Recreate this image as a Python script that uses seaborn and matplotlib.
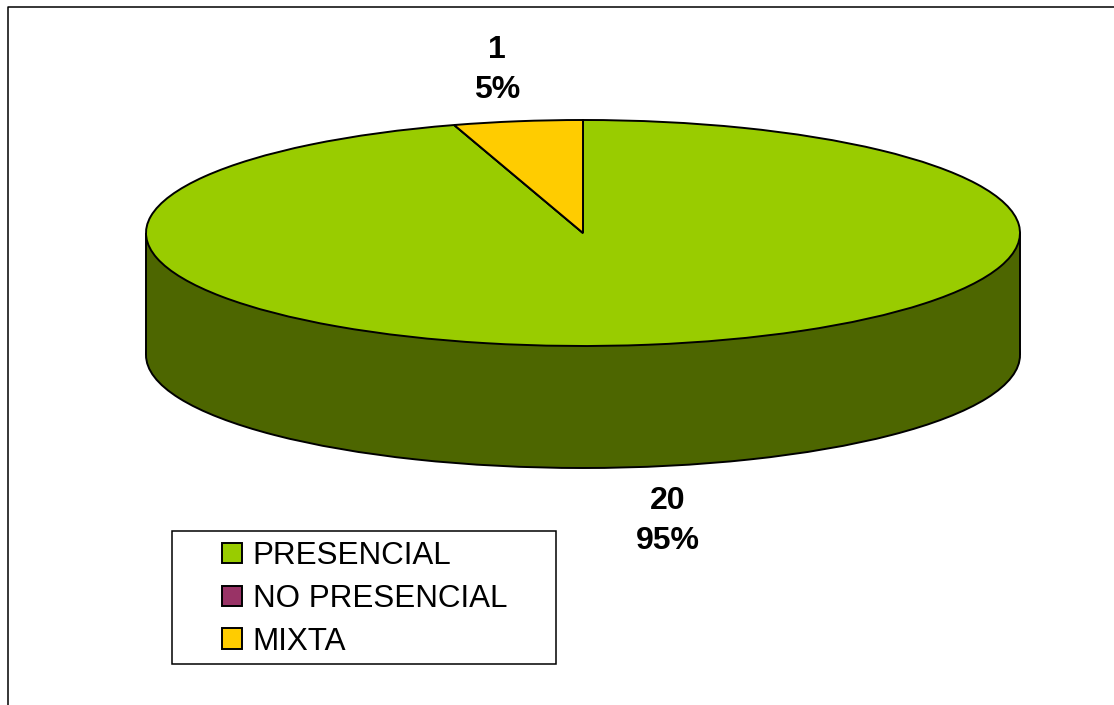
import matplotlib
matplotlib.use("Agg")
import matplotlib.pyplot as plt
from matplotlib.lines import Line2D
from matplotlib.patches import Rectangle
import seaborn as sns

categories = ["PRESENCIAL", "NO PRESENCIAL", "MIXTA"]
values = [20, 0, 1]
colors = ["#99CC00", "#993366", "#FFCC00"]
side_color = "#4D6600"

W, H = 1114, 705
cx, cy, rx, ry, depth = 583, 233, 437, 113, 122


def px(x, y):
    # pixel position to data units (ellipse radius = 1)
    return (x - cx) / rx, (cy - y) / ry


sns.set_theme(style="white")
plt.rcParams["font.family"] = ["Liberation Sans", "DejaVu Sans"]

fig = plt.figure(figsize=(W / 100, H / 100), dpi=100, facecolor="white")
ax = fig.add_axes([0, 0, 1, 1])

lw = 1.4
d = depth / ry

# side of the disc
ax.pie([1], colors=[side_color], center=(0, -d), radius=1,
       wedgeprops=dict(edgecolor="black", linewidth=lw))
ax.bar(0, d, width=2, bottom=-d, color=side_color, linewidth=0)
ax.vlines([-1, 1], -d, 0, color="black", linewidth=lw)

# top of the disc
wedges, _ = ax.pie(values, colors=colors, startangle=90, counterclock=False,
                   radius=1, wedgeprops=dict(edgecolor="black", linewidth=lw))

ax.set_aspect("auto")
ax.set_xlim(*(px(0, 0)[0], px(W, 0)[0]))
ax.set_ylim(px(0, H)[1], px(0, 0)[1])
ax.axis("off")

total = sum(values)
label_pos = {0: (668, 521), 2: (497, 70)}
for i, (x, y) in label_pos.items():
    lx, ly = px(x, y)
    ax.text(lx, ly, f"{values[i]}\n{round(100 * values[i] / total)}%",
            ha="center", va="center", fontsize=23, fontweight="bold",
            color="black", linespacing=1.42)

# legend box and frame of the chart area
fig.add_artist(Rectangle((172 / W, 1 - 664 / H), 384 / W, 133 / H, transform=fig.transFigure,
                         facecolor="white", edgecolor="black", linewidth=1.1, zorder=3))
fig.add_artist(Line2D([8 / W, 8 / W, 1], [0, 1 - 7 / H, 1 - 7 / H], color="black", linewidth=1.1))

leg = ax.legend([wedges[0], wedges[1], wedges[2]], categories, loc="upper left",
                bbox_to_anchor=(222 / W, 1 - 541 / H), bbox_transform=fig.transFigure,
                frameon=False, fontsize=22.6, borderpad=0, borderaxespad=0, labelcolor="black",
                handlelength=0.63, handleheight=0.63, handletextpad=0.35, labelspacing=0.41)
leg.remove()
fig.add_artist(leg)
leg.set_zorder(5)
for h in leg.legend_handles:
    h.set_edgecolor("black")
    h.set_linewidth(lw)

fig.savefig("out.png", dpi=100, facecolor="white")
